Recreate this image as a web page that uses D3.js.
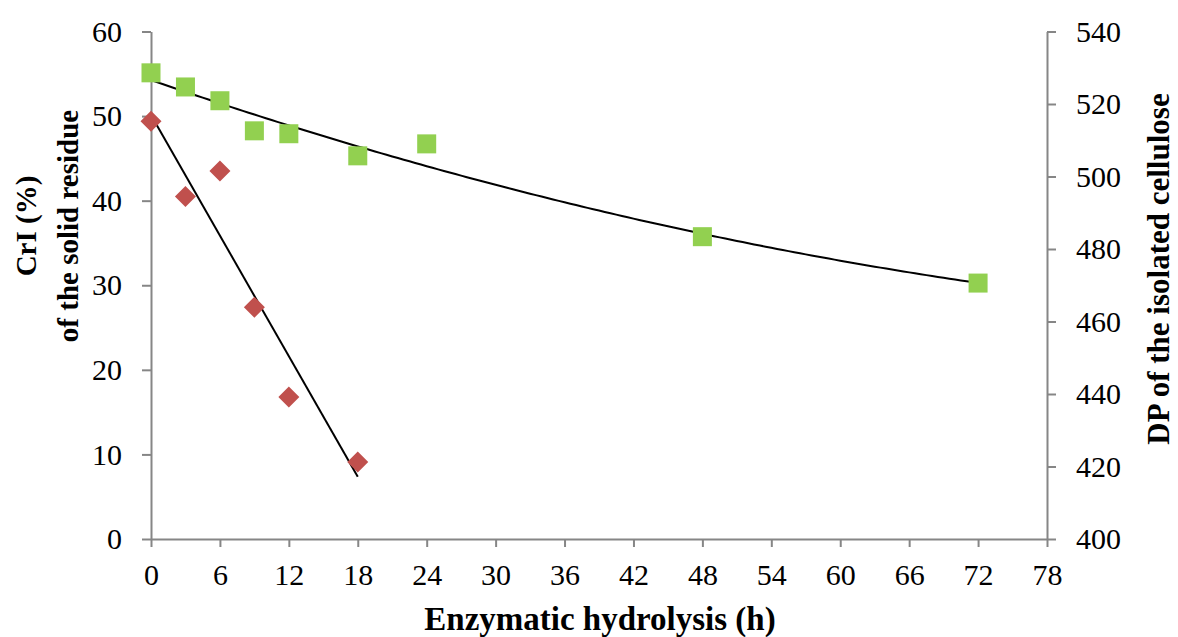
<!DOCTYPE html>
<html>
<head>
<meta charset="utf-8">
<script src="https://cdn.jsdelivr.net/npm/d3@7"></script>
<style>
  body { margin: 0; background: #fff; }
  svg text { font-family: "Liberation Serif", "Times New Roman", serif; fill: #000; }
</style>
</head>
<body>
<div id="chart"></div>
<script>
// hydrolysis time (h)
const crHours = [0, 3, 6, 9, 12, 18];
const crValues = [49.4, 40.5, 43.5, 27.4, 16.8, 9.1];
const dpHours = [0, 3, 6, 9, 12, 18, 24, 48, 72];
const dpValues = [528.6, 524.7, 520.9, 512.6, 511.8, 505.7, 509.0, 483.4, 470.6];

const xTicks = [0, 6, 12, 18, 24, 30, 36, 42, 48, 54, 60, 66, 72, 78];
const leftTicks = [0, 10, 20, 30, 40, 50, 60];
const rightTicks = [400, 420, 440, 460, 480, 500, 520, 540];

const width = 1178;
const height = 637;
const margin = { top: 31.5, right: 131, bottom: 98, left: 151 };

const svg = d3.select("#chart").append("svg")
  .attr("width", width)
  .attr("height", height);

const x = d3.scaleLinear().domain([0, 78]).range([margin.left, width - margin.right]);
const yL = d3.scaleLinear().domain([0, 60]).range([height - margin.bottom, margin.top]);
const yR = d3.scaleLinear().domain([400, 540]).range([height - margin.bottom, margin.top]);

const axisColor = "#868686";

function styleAxis(g) {
  g.selectAll("path").attr("stroke", axisColor).attr("stroke-width", 2);
  g.selectAll("line").attr("stroke", axisColor).attr("stroke-width", 2);
  g.selectAll("text").attr("font-size", "30px").attr("fill", "#000")
    .attr("font-family", "Liberation Serif");
}

svg.append("g")
  .attr("transform", `translate(0,${height - margin.bottom})`)
  .call(d3.axisBottom(x).tickValues(xTicks).tickSize(8).tickSizeOuter(0).tickPadding(17))
  .call(styleAxis);

svg.append("g")
  .attr("transform", `translate(${margin.left},0)`)
  .call(d3.axisLeft(yL).tickValues(leftTicks).tickSize(9).tickSizeOuter(0).tickPadding(20))
  .call(styleAxis);

svg.append("g")
  .attr("transform", `translate(${width - margin.right},0)`)
  .call(d3.axisRight(yR).tickValues(rightTicks).tickSize(9).tickSizeOuter(0).tickPadding(20))
  .call(styleAxis);

// trend lines
function linearFit(xs, ys) {
  const mx = d3.mean(xs), my = d3.mean(ys);
  let sxy = 0, sxx = 0;
  xs.forEach((v, i) => { sxy += (v - mx) * (ys[i] - my); sxx += (v - mx) * (v - mx); });
  const b = sxy / sxx;
  return t => my + b * (t - mx);
}

function quadFit(xs, ys) {
  // normal equations for y = a + b x + c x^2
  const s = [0, 0, 0, 0, 0];
  const t = [0, 0, 0];
  xs.forEach((v, i) => {
    for (let k = 0; k < 5; k++) s[k] += Math.pow(v, k);
    for (let k = 0; k < 3; k++) t[k] += ys[i] * Math.pow(v, k);
  });
  const M = [[s[0], s[1], s[2], t[0]], [s[1], s[2], s[3], t[1]], [s[2], s[3], s[4], t[2]]];
  for (let i = 0; i < 3; i++) {
    for (let j = i + 1; j < 3; j++) {
      const f = M[j][i] / M[i][i];
      for (let k = i; k < 4; k++) M[j][k] -= f * M[i][k];
    }
  }
  const c = [0, 0, 0];
  for (let i = 2; i >= 0; i--) {
    let sum = M[i][3];
    for (let k = i + 1; k < 3; k++) sum -= M[i][k] * c[k];
    c[i] = sum / M[i][i];
  }
  return v => c[0] + c[1] * v + c[2] * v * v;
}

const crFit = linearFit(crHours, crValues);
const dpFit = quadFit(dpHours, dpValues);

const line = d3.line().x(d => x(d[0])).y(d => d[1]);

svg.append("path")
  .datum(d3.range(0, 72.01, 0.5).map(t => [t, yR(dpFit(t))]))
  .attr("d", line)
  .attr("fill", "none")
  .attr("stroke", "#000")
  .attr("stroke-width", 2);

svg.append("path")
  .datum([0, 18].map(t => [t, yL(crFit(t))]))
  .attr("d", line)
  .attr("fill", "none")
  .attr("stroke", "#000")
  .attr("stroke-width", 2);

// markers
const sq = 19;
svg.selectAll(".dp")
  .data(dpHours)
  .enter().append("rect")
  .attr("class", "dp")
  .attr("x", d => x(d) - sq / 2)
  .attr("y", (d, i) => yR(dpValues[i]) - sq / 2)
  .attr("width", sq)
  .attr("height", sq)
  .attr("fill", "#92D050");

const dm = 10.5;
svg.selectAll(".cr")
  .data(crHours)
  .enter().append("path")
  .attr("class", "cr")
  .attr("d", (d, i) => {
    const cx = x(d), cy = yL(crValues[i]);
    return `M${cx},${cy - dm}L${cx + dm},${cy}L${cx},${cy + dm}L${cx - dm},${cy}Z`;
  })
  .attr("fill", "#C0504D");

// axis titles
const leftTitle = svg.append("text")
  .attr("transform", "translate(36,226) rotate(-90)")
  .attr("text-anchor", "middle")
  .attr("font-weight", "bold")
  .attr("font-size", "29px");
leftTitle.append("tspan").attr("x", 0).attr("y", 0).text("CrI (%)");
leftTitle.append("tspan").attr("x", 0).attr("y", 42).text("of the solid residue");

svg.append("text")
  .attr("transform", "translate(1169,269) rotate(-90)")
  .attr("text-anchor", "middle")
  .attr("font-weight", "bold")
  .attr("font-size", "31px")
  .text("DP of the isolated cellulose");

svg.append("text")
  .attr("x", 600)
  .attr("y", 630)
  .attr("text-anchor", "middle")
  .attr("font-weight", "bold")
  .attr("font-size", "33px")
  .text("Enzymatic hydrolysis (h)");
</script>
</body>
</html>
